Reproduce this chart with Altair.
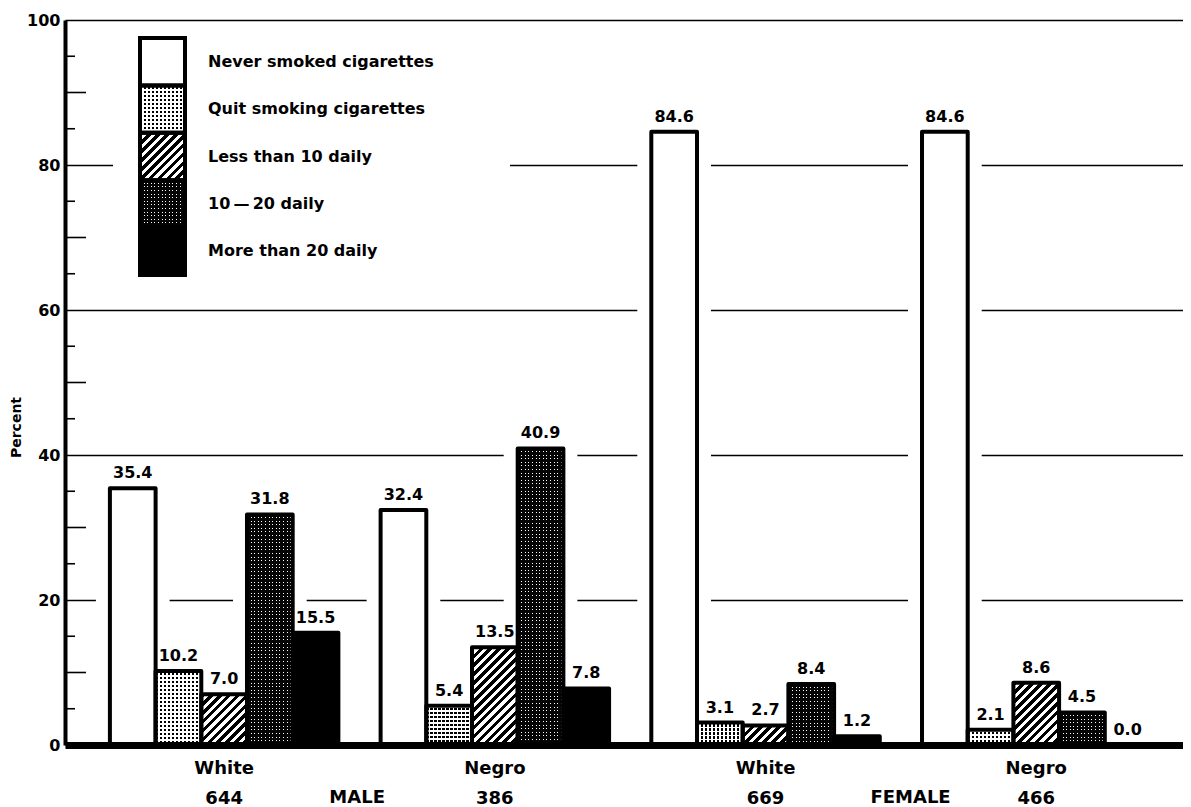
import math
import altair as alt

# ------------------------------------------------------------------ data
groups = ["White|644", "Negro|386", "White|669", "Negro|466"]
categories = [
    "Never smoked cigarettes",
    "Quit smoking cigarettes",
    "Less than 10 daily",
    "10\u2009\u2014\u200920 daily",
    "More than 20 daily",
]
male_white = [35.4, 10.2, 7.0, 31.8, 15.5]
male_negro = [32.4, 5.4, 13.5, 40.9, 7.8]
female_white = [84.6, 3.1, 2.7, 8.4, 1.2]
female_negro = [84.6, 2.1, 8.6, 4.5, 0.0]
series = [male_white, male_negro, female_white, female_negro]
sex_labels = ["MALE", "FEMALE"]
y_labels = [0, 20, 40, 60, 80, 100]
long_ticks = [10, 30, 50, 70, 90]
short_ticks = [5, 15, 25, 35, 45, 55, 65, 75, 85, 95]

# ------------------------------------------------------------------ layout / style
W, H = 1118, 725
PAD = {"left": 57, "top": 12, "right": 0, "bottom": 62}
P_IN, P_OUT, ALIGN = 0.156, 0.143, 0.58
FONT = "DejaVu Sans"
step = W / (len(groups) - P_IN + 2 * P_OUT)
bar_w = step * (1 - P_IN) / len(categories)
ppu = H / 100.0
CLEAR = "rgba(255,255,255,0)"


def stops(L, period, on, c_on, c_off):
    out = []
    s = 0.0
    while s < L - 1e-9:
        a, b = s, min(s + on, L)
        out += [{"offset": round(a / L, 5), "color": c_on},
                {"offset": round(b / L, 5), "color": c_on}]
        a2, b2 = min(s + on, L), min(s + period, L)
        if b2 > a2:
            out += [{"offset": round(a2 / L, 5), "color": c_off},
                    {"offset": round(b2 / L, 5), "color": c_off}]
        s += period
    return out


def vstripes(w, period, on, c_on, c_off):
    return {"gradient": "linear", "x1": 0, "y1": 0, "x2": 1, "y2": 0,
            "stops": stops(w, period, on, c_on, c_off)}


def hbands(h, period, on, c_on, c_off):
    return {"gradient": "linear", "x1": 0, "y1": 0, "x2": 0, "y2": 1,
            "stops": stops(h, period, on, c_on, c_off)}


def diag(w, h, period, on, c_on, c_off):
    k = (w + h) / (w * w + h * h)
    r2 = math.sqrt(2)
    return {"gradient": "linear", "x1": 0, "y1": 0, "x2": round(k * w, 5),
            "y2": round(k * h, 5),
            "stops": stops(w + h, period * r2, on * r2, c_on, c_off)}


def pattern(ci, w, h):
    if ci == 0:
        return "#ffffff", CLEAR
    if ci == 4 or h <= 0:
        return ("#000000" if ci == 4 else "#ffffff"), CLEAR
    if ci == 1:
        return (vstripes(w, 4.0, 2.2, "#000000", "#ffffff"),
                hbands(h, 4.0, 1.8, "#ffffff", CLEAR))
    if ci == 2:
        return diag(w, h, 6.3, 3.3, "#000000", "#ffffff"), CLEAR
    # ci == 3 : black with sparse fine white specks
    return (vstripes(w, 3.6, 1.0, "#ffffff", "#050505"),
            hbands(h, 3.6, 2.6, "#050505", CLEAR))


records = []
for g, vals in zip(groups, series):
    for ci, (c, v) in enumerate(zip(categories, vals)):
        fa, fb = pattern(ci, bar_w, v * ppu)
        records.append({"group": g, "cat": c, "value": v,
                        "label": f"{v:.1f}", "fillA": fa, "fillB": fb})

SW_W, SW_H = 45.0, (255 - 18) / len(categories)
leg_records = []
for ci, c in enumerate(categories):
    fa, fb = pattern(ci, SW_W, SW_H)
    leg_records.append({"cat": c, "fillA": fa, "fillB": fb})

# ------------------------------------------------------------------ encodings
x_enc = alt.X(
    "group:N", sort=groups, title=None,
    scale=alt.Scale(paddingInner=P_IN, paddingOuter=P_OUT, align=ALIGN),
    axis=alt.Axis(labelExpr="split(datum.label, '|')", domain=True,
                  domainColor="black", domainWidth=7, ticks=False, tickSize=0,
                  grid=False, labelFont=FONT, labelFontSize=18,
                  labelFontWeight="bold", labelColor="black", labelPadding=14,
                  labelLineHeight=30, labelAngle=0, zindex=1),
)
xo_enc = alt.XOffset("cat:N", sort=categories,
                     scale=alt.Scale(paddingInner=0, paddingOuter=0))
y_enc = alt.Y(
    "value:Q", title="Percent",
    scale=alt.Scale(domain=[0, 100], nice=False),
    axis=alt.Axis(values=y_labels, grid=True, gridColor="black",
                  gridWidth=1.6, gridOpacity=1, ticks=False, tickSize=0,
                  domainColor="black", domainWidth=4, labelFont=FONT,
                  labelFontSize=16, labelFontWeight="bold", labelColor="black",
                  labelPadding=5, titleFont=FONT, titleFontSize=14,
                  titleFontWeight="bold", titleColor="black", titlePadding=3,
                  titleY=407),
)

bars_data = alt.Data(values=records)
base = alt.Chart(bars_data).encode(x=x_enc, xOffset=xo_enc, y=y_enc)

halo = base.mark_bar(fill="white", stroke="white", strokeWidth=28)
pat_a = base.mark_bar(strokeWidth=0).encode(fill=alt.Fill("fillA:N", scale=None))
pat_b = base.mark_bar(strokeWidth=0).encode(fill=alt.Fill("fillB:N", scale=None))
outline = base.mark_bar(fill="white", fillOpacity=0, stroke="black",
                        strokeWidth=4, strokeJoin="round")
values_txt = base.mark_text(font=FONT, fontSize=16, fontWeight="bold",
                            color="black", baseline="alphabetic",
                            dy=-10).encode(text="label:N")

tick_long = alt.Chart(alt.Data(values=[{"value": v} for v in long_ticks])).mark_rule(
    color="black", strokeWidth=1.6).encode(y=y_enc, x=alt.value(0), x2=alt.value(21))
tick_short = alt.Chart(alt.Data(values=[{"value": v} for v in short_ticks])).mark_rule(
    color="black", strokeWidth=1.6).encode(y=y_enc, x=alt.value(0), x2=alt.value(10))

male = alt.Chart(alt.Data(values=[{"group": groups[0], "sex": sex_labels[0]}])).mark_text(
    font=FONT, fontSize=18, fontWeight="bold", color="black", baseline="top",
    dx=133).encode(x=x_enc, y=alt.value(H + 44), text="sex:N")
female = alt.Chart(alt.Data(values=[{"group": groups[2], "sex": sex_labels[1]}])).mark_text(
    font=FONT, fontSize=18, fontWeight="bold", color="black", baseline="top",
    dx=145).encode(x=x_enc, y=alt.value(H + 44), text="sex:N")

main = alt.layer(halo, pat_a, pat_b, outline, values_txt, tick_long, tick_short,
                 male, female)

# ------------------------------------------------------------------ legend
leg_data = alt.Data(values=leg_records)
ly = alt.Y("cat:N", sort=categories, axis=None,
           scale=alt.Scale(range=[18, 255], paddingInner=0, paddingOuter=0))
leg_bg = alt.Chart(alt.Data(values=[{"k": 1}])).mark_rect(fill="white").encode(
    x=alt.value(48), x2=alt.value(445), y=alt.value(6), y2=alt.value(268))
sw_a = alt.Chart(leg_data).mark_rect(strokeWidth=0).encode(
    y=ly, x=alt.value(75), x2=alt.value(120), fill=alt.Fill("fillA:N", scale=None))
sw_b = alt.Chart(leg_data).mark_rect(strokeWidth=0).encode(
    y=ly, x=alt.value(75), x2=alt.value(120), fill=alt.Fill("fillB:N", scale=None))
sw_o = alt.Chart(leg_data).mark_rect(fill="white", fillOpacity=0, stroke="black",
                                     strokeWidth=4).encode(
    y=ly, x=alt.value(75), x2=alt.value(120))
leg_txt = alt.Chart(leg_data).mark_text(font=FONT, fontSize=16, fontWeight="bold",
                                        color="black", align="left",
                                        baseline="middle").encode(
    y=ly, x=alt.value(143), text="cat:N")
legend = alt.layer(leg_bg, sw_a, sw_b, sw_o, leg_txt)

chart = (
    alt.layer(main, legend)
    .resolve_scale(y="independent")
    .properties(width=W, height=H, padding=PAD,
                autosize=alt.AutoSizeParams(type="none"))
    .configure_view(stroke="transparent")
)

chart.save("out.html", embed_options={"renderer": "svg", "actions": False})
